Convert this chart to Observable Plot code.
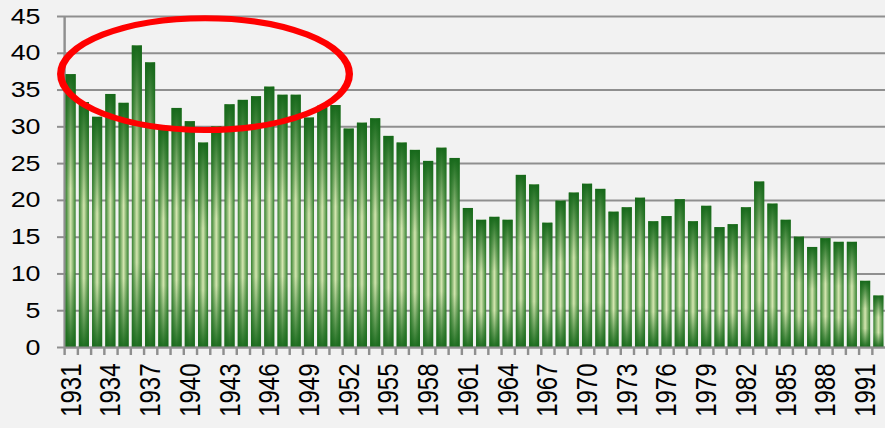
<!DOCTYPE html>
<html><head><meta charset="utf-8">
<script src="https://cdn.jsdelivr.net/npm/d3@7"></script>
<script src="https://cdn.jsdelivr.net/npm/@observablehq/plot@0.6"></script>
<style>
html,body{margin:0;padding:0;background:#f2f2f2;overflow:hidden}
#chart{width:885px;height:428px;overflow:hidden}
#chart svg{display:block;transform:scaleX(1.22);transform-origin:0 0}
</style></head><body><div id="chart"></div>
<script>
const years = [1931,1932,1933,1934,1935,1936,1937,1938,1939,1940,1941,1942,1943,1944,1945,1946,1947,1948,1949,1950,
  1951,1952,1953,1954,1955,1956,1957,1958,1959,1960,1961,1962,1963,1964,1965,1966,1967,1968,1969,1970,
  1971,1972,1973,1974,1975,1976,1977,1978,1979,1980,1981,1982,1983,1984,1985,1986,1987,1988,1989,1990,1991,1992];
const values = [37.1,33.3,31.3,34.4,33.2,41.0,38.7,30.0,32.5,30.7,27.8,30.0,33.0,33.6,34.1,35.4,34.3,34.3,31.2,32.8,
  32.9,29.7,30.5,31.1,28.7,27.8,26.8,25.3,27.1,25.7,18.9,17.3,17.7,17.3,23.4,22.1,16.9,19.9,21.0,22.2,
  21.5,18.4,19.0,20.3,17.1,17.8,20.1,17.1,19.2,16.3,16.7,19.0,22.5,19.5,17.3,15.0,13.6,14.8,14.3,14.3,9.0,7.0];
const labelYears = [1931,1934,1937,1940,1943,1946,1949,1952,1955,1958,1961,1964,1967,1970,1973,1976,1979,1982,1985,1988,1991];
const yTicks = [0,5,10,15,20,25,30,35,40,45];
// highlight annotation (in data terms): centre year/value and half-extents
const ellipse = {year: 1941, shift: 0.15, halfYears: 10.9, value: 37.1, halfValue: 7.6};

const data = years.map((year, i) => ({year, value: values[i]}));
const S = 1.22;                 // horizontal stretch of the whole drawing
const W = 885 / S, H = 428;
const mL = 64 / S, mR = 0, mT = 16, mB = 81;
const padIn = 0.24, padOut = 0.12;
const step = (W - mL - mR) / years.length;
const grid = "#8f8f8f";

const defs = () => {
  const d = d3.create("svg:defs");
  const h = d.append("linearGradient").attr("id", "barH").attr("x1", 0).attr("x2", 1).attr("y1", 0).attr("y2", 0);
  [[0, "#34802e"], [0.5, "#d4e6b0"], [1, "#34802e"]].forEach(([o, c]) => h.append("stop").attr("offset", o).attr("stop-color", c));
  const v = d.append("linearGradient").attr("id", "barV").attr("x1", 0).attr("x2", 0).attr("y1", 0).attr("y2", 1);
  [[0, 1], [0.42, 0], [0.72, 0], [1, 0.95]].forEach(([o, a]) => v.append("stop").attr("offset", o).attr("stop-color", "#16681a").attr("stop-opacity", a));
  return d.node();
};

const ellipseMark = (index, scales) => {
  const x = scales.x, y = scales.y;
  const st = x(years[1]) - x(years[0]);
  const bw = x.bandwidth ? x.bandwidth() : st * (1 - padIn);
  const cx = x(ellipse.year) + bw / 2 + ellipse.shift * st;
  const rx = ellipse.halfYears * st;
  const cy = y(ellipse.value);
  const ry = y(ellipse.value - ellipse.halfValue) - cy;
  return d3.create("svg:ellipse")
    .attr("cx", cx).attr("cy", cy).attr("rx", rx).attr("ry", ry)
    .attr("fill", "none").attr("stroke", "#ff0000").attr("stroke-width", 6)
    .node();
};

const chart = Plot.plot({
  width: W, height: H,
  marginLeft: mL, marginRight: mR, marginTop: mT, marginBottom: mB,
  style: {background: "#f2f2f2", fontFamily: "'Liberation Sans', Arial, sans-serif", overflow: "visible"},
  x: {type: "band", domain: years, paddingInner: padIn, paddingOuter: padOut, axis: null, label: null},
  y: {domain: [0, 45], axis: null, label: null},
  marks: [
    defs,
    Plot.gridY(yTicks, {stroke: grid, strokeOpacity: 1, strokeWidth: 2}),
    Plot.axisY({ticks: yTicks, label: null, tickSize: 7 / S, tickPadding: 14, stroke: grid, strokeWidth: 2, fontSize: 22, fill: "#000", tickFormat: d => String(d)}),
    Plot.ruleX([years[0]], {x: d => d, dx: -step / 2, y1: 0, y2: 45, stroke: grid, strokeWidth: 2}),
    Plot.axisX({ticks: years, label: null, tickSize: 8, tickFormat: () => "", dx: -step / 2, stroke: grid, strokeWidth: 2}),
    Plot.axisX({ticks: labelYears, label: null, tickSize: 0, tickPadding: 16, tickRotate: -90, fontSize: 24, fill: "#000", tickFormat: d => String(d)}),
    Plot.barY(data, {x: "year", y: "value", fill: "url(#barH)"}),
    Plot.barY(data, {x: "year", y: "value", fill: "url(#barV)"}),
    Plot.ruleY([0], {stroke: grid, strokeWidth: 2}),
    ellipseMark
  ]
});

document.getElementById("chart").appendChild(chart);
</script>
</body></html>
